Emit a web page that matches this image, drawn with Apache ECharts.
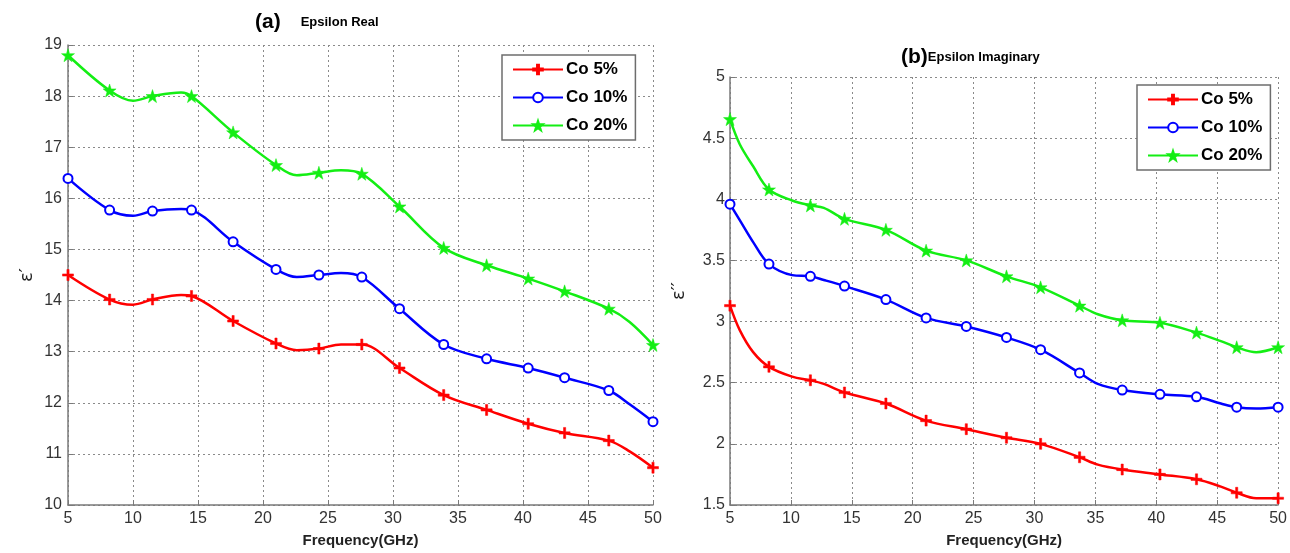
<!DOCTYPE html>
<html>
<head>
<meta charset="utf-8">
<script src="https://cdn.jsdelivr.net/npm/echarts/dist/echarts.min.js"></script>
<style>
  html, body { margin: 0; padding: 0; background: #fff; }
  #main { width: 1290px; height: 553px; }
</style>
</head>
<body>
<div id="main"></div>
<script>
// (a) Epsilon Real
const freqA = [5, 8.2, 10, 11.5, 13.7, 14.5, 17.7, 21, 22.6, 24.3, 26, 27.6, 30.5, 33.9, 37.2, 40.4, 43.2, 46.6, 48.2, 50];
const markA = [1, 1, 0, 1, 0, 1, 1, 1, 0, 1, 0, 1, 1, 1, 1, 1, 1, 1, 0, 1];
const realCo5 = [14.5, 14.02, 13.92, 14.02, 14.11, 14.09, 13.6, 13.16, 13.03, 13.06, 13.14, 13.14, 12.68, 12.15, 11.86, 11.59, 11.41, 11.26, 11.05, 10.73];
const realCo10 = [16.39, 15.77, 15.66, 15.75, 15.79, 15.77, 15.15, 14.61, 14.46, 14.5, 14.54, 14.46, 13.84, 13.14, 12.86, 12.68, 12.49, 12.24, 11.97, 11.63];
const realCo20 = [18.8, 18.11, 17.91, 18.0, 18.07, 18.0, 17.29, 16.65, 16.45, 16.5, 16.55, 16.48, 15.84, 15.03, 14.69, 14.43, 14.18, 13.84, 13.58, 13.13];

// (b) Epsilon Imaginary
const freqB = [5, 5.8, 6.9, 8.2, 10.1, 11.6, 12.7, 14.4, 17.8, 21.1, 24.4, 27.7, 30.5, 33.7, 35.2, 37.2, 40.3, 43.3, 45.3, 46.6, 48.2, 50];
const markB = [1, 0, 0, 1, 0, 1, 0, 1, 1, 1, 1, 1, 1, 1, 0, 1, 1, 1, 0, 1, 0, 1];
const imagCo5 = [3.13, 2.93, 2.75, 2.63, 2.55, 2.52, 2.49, 2.42, 2.33, 2.19, 2.12, 2.05, 2.0, 1.89, 1.83, 1.79, 1.75, 1.71, 1.65, 1.6, 1.555, 1.555];
const imagCo10 = [3.96, 3.83, 3.65, 3.47, 3.38, 3.37, 3.34, 3.29, 3.18, 3.03, 2.96, 2.87, 2.77, 2.58, 2.49, 2.44, 2.405, 2.385, 2.33, 2.3, 2.29, 2.3];
const imagCo20 = [4.655, 4.45, 4.27, 4.08, 3.99, 3.95, 3.93, 3.84, 3.75, 3.58, 3.5, 3.37, 3.28, 3.13, 3.06, 3.01, 2.99, 2.91, 2.84, 2.79, 2.75, 2.79];

const names = ['Co 5%', 'Co 10%', 'Co 20%'];
const xTicks = [5, 10, 15, 20, 25, 30, 35, 40, 45, 50];

const colors = ['#ff0000', '#0000ff', '#14ee14'];
const plus = 'path://M4,0h2v4h4v2h-4v4h-2v-4h-4v-2h4z';
const star = 'path://M5,0L6.2,3.6L10,3.6L7,5.9L8.1,9.5L5,7.3L1.9,9.5L3,5.9L0,3.6L3.8,3.6Z';
const symbols = [plus, 'emptyCircle', star];
const symSizes = [11, 9, 13];

// only every few points carries a marker, like the matlab plot
function pts(freq, vals, mark) {
    return freq.map((f, i) => mark[i] ? [f, vals[i]] : { value: [f, vals[i]], symbol: 'none' });
}

function makeSeries(idx, gridIdx, freq, vals, mark) {
    return {
        name: names[idx],
        type: 'line',
        xAxisIndex: gridIdx,
        yAxisIndex: gridIdx,
        data: pts(freq, vals, mark),
        smooth: 0.35,
        symbol: symbols[idx],
        symbolSize: symSizes[idx],
        showAllSymbol: true,
        lineStyle: { color: colors[idx], width: 2.5 },
        itemStyle: { color: colors[idx], borderColor: colors[idx], borderWidth: idx === 1 ? 2 : 0.5 },
        z: 3 + idx
    };
}

const labelFont = { fontFamily: 'Liberation Sans', fontSize: 16, color: '#333' };
const gridLine = { show: true, lineStyle: { type: [2, 3], color: '#8a8a8a', width: 1 } };
const axisLine = { show: true, lineStyle: { color: '#7a7a7a', width: 1.5 } };
const axisTick = { show: true, inside: true, length: 5, lineStyle: { color: '#7a7a7a' } };

function xAxis(gridIdx) {
    return {
        type: 'value', gridIndex: gridIdx, min: xTicks[0], max: xTicks[xTicks.length - 1], interval: 5,
        name: 'Frequency(GHz)', nameLocation: 'middle', nameGap: 28,
        nameTextStyle: { fontFamily: 'Liberation Sans', fontWeight: 'bold', fontSize: 15, color: '#222' },
        axisLine: axisLine, axisTick: axisTick, splitLine: gridLine,
        axisLabel: Object.assign({ margin: 6 }, labelFont)
    };
}

function legend(left, top, itemGap) {
    return {
        data: names, orient: 'vertical', left: left, top: top,
        itemWidth: 50, itemHeight: 12, itemGap: itemGap,
        padding: [6, 8, 6, 10],
        backgroundColor: '#fff', borderColor: '#6d6d6d', borderWidth: 1.5, borderRadius: 0,
        textStyle: { fontFamily: 'Liberation Sans', fontWeight: 'bold', fontSize: 17, color: '#000', padding: [0, 0, 0, -2] },
        selectedMode: false
    };
}

const chart = echarts.init(document.getElementById('main'));
chart.setOption({
    animation: false,
    backgroundColor: '#fff',
    title: [
        {
            left: 250, top: 7,
            text: '{a|(a)}    {b|Epsilon Real}',
            textStyle: { rich: {
                a: { fontFamily: 'Liberation Sans', fontWeight: 'bold', fontSize: 21, color: '#000' },
                b: { fontFamily: 'Liberation Sans', fontWeight: 'bold', fontSize: 13, color: '#000' }
            } }
        },
        {
            left: 896, top: 42,
            text: '{a|(b)}{b|Epsilon Imaginary}',
            textStyle: { rich: {
                a: { fontFamily: 'Liberation Sans', fontWeight: 'bold', fontSize: 21, color: '#000' },
                b: { fontFamily: 'Liberation Sans', fontWeight: 'bold', fontSize: 13, color: '#000' }
            } }
        }
    ],
    legend: [legend(502, 55, 11), legend(1137, 85, 11)],
    grid: [
        { left: 68, right: 637, top: 45, bottom: 46 },
        { left: 730, right: 10, top: 77, bottom: 44 }
    ],
    xAxis: [xAxis(0), xAxis(1)],
    yAxis: [
        {
            type: 'value', gridIndex: 0, min: 10, max: 19, interval: 1,
            name: 'ε′', nameLocation: 'middle', nameGap: 32, nameRotate: 90,
            nameTextStyle: { fontFamily: 'DejaVu Sans', fontSize: 18, color: '#222' },
            axisLine: axisLine, axisTick: axisTick, splitLine: gridLine,
            axisLabel: Object.assign({ margin: 6 }, labelFont)
        },
        {
            type: 'value', gridIndex: 1, min: 1.5, max: 5, interval: 0.5,
            name: 'ε′′', nameLocation: 'middle', nameGap: 42, nameRotate: 90,
            nameTextStyle: { fontFamily: 'DejaVu Sans', fontSize: 18, color: '#222' },
            axisLine: axisLine, axisTick: axisTick, splitLine: gridLine,
            axisLabel: Object.assign({ margin: 5 }, labelFont)
        }
    ],
    series: [
        makeSeries(0, 0, freqA, realCo5, markA),
        makeSeries(1, 0, freqA, realCo10, markA),
        makeSeries(2, 0, freqA, realCo20, markA),
        makeSeries(0, 1, freqB, imagCo5, markB),
        makeSeries(1, 1, freqB, imagCo10, markB),
        makeSeries(2, 1, freqB, imagCo20, markB)
    ]
});
</script>
</body>
</html>
